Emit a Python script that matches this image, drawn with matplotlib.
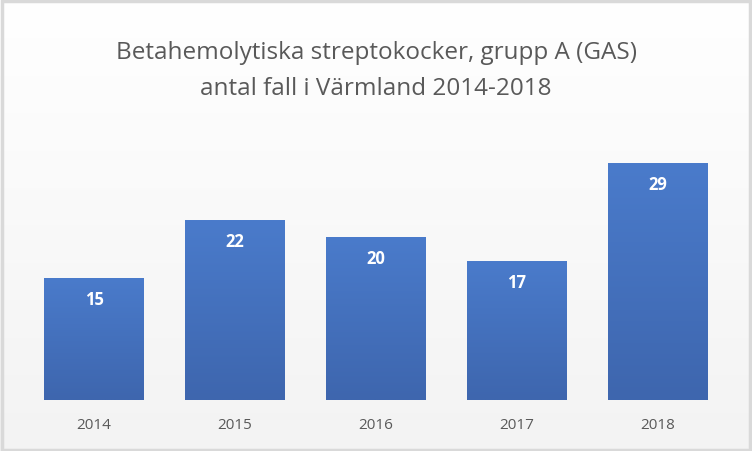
import numpy as np
import matplotlib.pyplot as plt
from matplotlib.patches import Rectangle

years = ['2014', '2015', '2016', '2017', '2018']
cases = [15, 22, 20, 17, 29]

plt.rcParams['font.family'] = ['Open Sans', 'DejaVu Sans']

fig = plt.figure(figsize=(7.52, 4.51), dpi=100)
fig.patch.set_facecolor('white')

# light background gradient across the whole figure
bg = fig.add_axes([0, 0, 1, 1], zorder=-5)
grad = np.linspace(1.0, 0.0, 256).reshape(-1, 1)
bg.imshow(grad, aspect='auto', cmap=plt.matplotlib.colors.LinearSegmentedColormap.from_list(
    'bg', ['#f3f3f3', '#ffffff']), extent=[0, 1, 0, 1])
bg.set_xlim(0, 1)
bg.set_ylim(0, 1)
bg.axis('off')
bg.add_patch(Rectangle((0.002, 0.003), 0.996, 0.994, fill=False, edgecolor='#d9d9d9', lw=2.5))

# axes: bottom at y=400px, 30 units = 245px
ax = fig.add_axes([23.5 / 752, 51 / 451, 705 / 752, 245 / 451])
ax.set_facecolor('none')
x = np.arange(len(years))
bars = ax.bar(x, cases, width=0.709, color='none')

cmap = plt.matplotlib.colors.LinearSegmentedColormap.from_list('bar', ['#3e66ae', '#4a7bcb'])
for b, v in zip(bars, cases):
    x0 = b.get_x()
    w = b.get_width()
    im = ax.imshow(np.linspace(1, 0, 100).reshape(-1, 1), cmap=cmap, aspect='auto',
                   extent=[x0, x0 + w, 0, v], zorder=2)
    im.set_clip_path(b)
    ax.text(x0 + w / 2, v - 2.7, str(v), ha='center', va='center', color='white',
            fontsize=12, fontweight='bold', zorder=3)

ax.set_xlim(-0.5, len(years) - 0.5)
ax.set_ylim(0, 30)
ax.set_xticks(x)
ax.set_xticklabels(years, fontsize=11, color='#595959')
ax.tick_params(axis='x', length=0, pad=13)
ax.set_yticks([])
for s in ax.spines.values():
    s.set_visible(False)

fig.text(0.5, 1 - 53 / 451, 'Betahemolytiska streptokocker, grupp A (GAS)', ha='center', va='center',
         fontsize=17.5, color='#595959')
fig.text(0.5, 1 - 89 / 451, 'antal fall i Värmland 2014-2018', ha='center', va='center',
         fontsize=17.5, color='#595959')

fig.savefig('out.png', dpi=100)
